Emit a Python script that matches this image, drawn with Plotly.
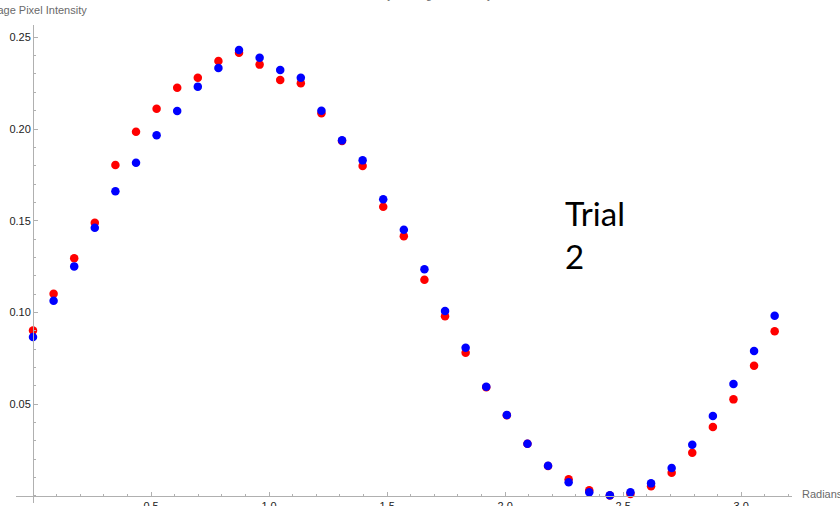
import plotly.graph_objects as go
import numpy as np

# Angles in degrees (0..180 step 5), converted to radians for the x axis
degrees = list(range(0, 181, 5))
radians = [d * np.pi / 180 for d in degrees]

red_intensity = [0.0902, 0.1102, 0.1295, 0.1489, 0.1804, 0.1985, 0.2111, 0.2225, 0.2280, 0.2371,
                 0.2416, 0.2351, 0.2267, 0.2249, 0.2086, 0.1935, 0.1798, 0.1576, 0.1415, 0.1178,
                 0.0979, 0.0780, 0.0592, 0.0440, 0.0284, 0.0163, 0.0090, 0.0030, 0.0002, 0.0010,
                 0.0053, 0.0126, 0.0235, 0.0375, 0.0526, 0.0709, 0.0897]
blue_intensity = [0.0866, 0.1064, 0.1251, 0.1462, 0.1660, 0.1816, 0.1966, 0.2098, 0.2231, 0.2333,
                  0.2431, 0.2389, 0.2322, 0.2280, 0.2100, 0.1938, 0.1829, 0.1617, 0.1451, 0.1235,
                  0.1008, 0.0808, 0.0595, 0.0441, 0.0284, 0.0164, 0.0074, 0.0019, 0.0003, 0.0019,
                  0.0068, 0.0152, 0.0279, 0.0435, 0.0610, 0.0790, 0.0982]

x_tickvals = [0.5, 1.0, 1.5, 2.0, 2.5, 3.0]
x_ticktext = ["0.5", "1.0", "1.5", "2.0", "2.5", "3.0"]
y_tickvals = [0.05, 0.10, 0.15, 0.20, 0.25]
y_ticktext = ["0.05", "0.10", "0.15", "0.20", "0.25"]

title_text = "Pixel Intensity vs. Angle of Polarity"
y_label = "Average Pixel Intensity"
x_label = "Radians"
note_text = "Trial<br>2"

XR = [-0.072, 3.215]
YR = [-0.0039, 0.2567]

axis_col = "#b0b0b0"
label_col = "#6a6a6a"
tick_font = dict(family="Liberation Sans, Arial", size=11, color="#222222")

fig = go.Figure()
fig.add_trace(go.Scatter(x=radians, y=red_intensity, mode="markers",
                         marker=dict(color="#ff0000", size=8.5), showlegend=False))
fig.add_trace(go.Scatter(x=radians, y=blue_intensity, mode="markers",
                         marker=dict(color="#0000ff", size=8.5), showlegend=False))

fig.update_layout(
    width=840, height=506,
    margin=dict(l=16, r=48, t=25, b=3, pad=0),
    paper_bgcolor="white", plot_bgcolor="white",
    showlegend=False,
    xaxis=dict(range=XR, anchor="free", position=(0 - YR[0]) / (YR[1] - YR[0]),
               showgrid=False, zeroline=False, showline=True, linecolor=axis_col, linewidth=1,
               tickmode="array", tickvals=x_tickvals, ticktext=x_ticktext,
               ticks="inside", ticklen=4, tickcolor=axis_col, tickwidth=1,
               tickfont=tick_font, automargin=False,
               minor=dict(dtick=0.1, tick0=0, ticks="inside", ticklen=2, tickcolor=axis_col, showgrid=False)),
    yaxis=dict(range=YR, anchor="free", position=(0 - XR[0]) / (XR[1] - XR[0]),
               showgrid=False, zeroline=False, showline=True, linecolor=axis_col, linewidth=1,
               tickmode="array", tickvals=y_tickvals, ticktext=y_ticktext,
               ticks="inside", ticklen=4, tickcolor=axis_col, tickwidth=1,
               tickfont=tick_font, automargin=False,
               minor=dict(dtick=0.01, tick0=0, ticks="inside", ticklen=2, tickcolor=axis_col, showgrid=False)),
    annotations=[
        dict(text=y_label, xref="paper", yref="paper", x=(88 - 16) / 776, y=1 + (25 - 17.3) / 478,
             xanchor="right", yanchor="bottom", showarrow=False, borderpad=0,
             font=dict(family="Liberation Sans, Arial", size=11, color=label_col)),
        dict(text=x_label, xref="paper", yref="paper", x=(801 - 16) / 776, y=(503 - 500.8) / 478,
             xanchor="left", yanchor="bottom", showarrow=False, borderpad=0,
             font=dict(family="Liberation Sans, Arial", size=11, color=label_col)),
        dict(text=title_text, xref="paper", yref="paper", x=(409 - 16) / 776, y=1 + 23 / 478,
             xanchor="center", yanchor="bottom", showarrow=False, borderpad=0,
             font=dict(family="Liberation Sans, Arial", size=11, color=label_col)),
        dict(text=note_text, xref="paper", yref="paper", x=(564 - 16) / 776, y=1 - (192 - 25) / 478,
             xanchor="left", yanchor="top", align="left", showarrow=False, borderpad=0,
             font=dict(family="Lato", size=33, color="black")),
    ],
)

fig.write_html("out.html")
